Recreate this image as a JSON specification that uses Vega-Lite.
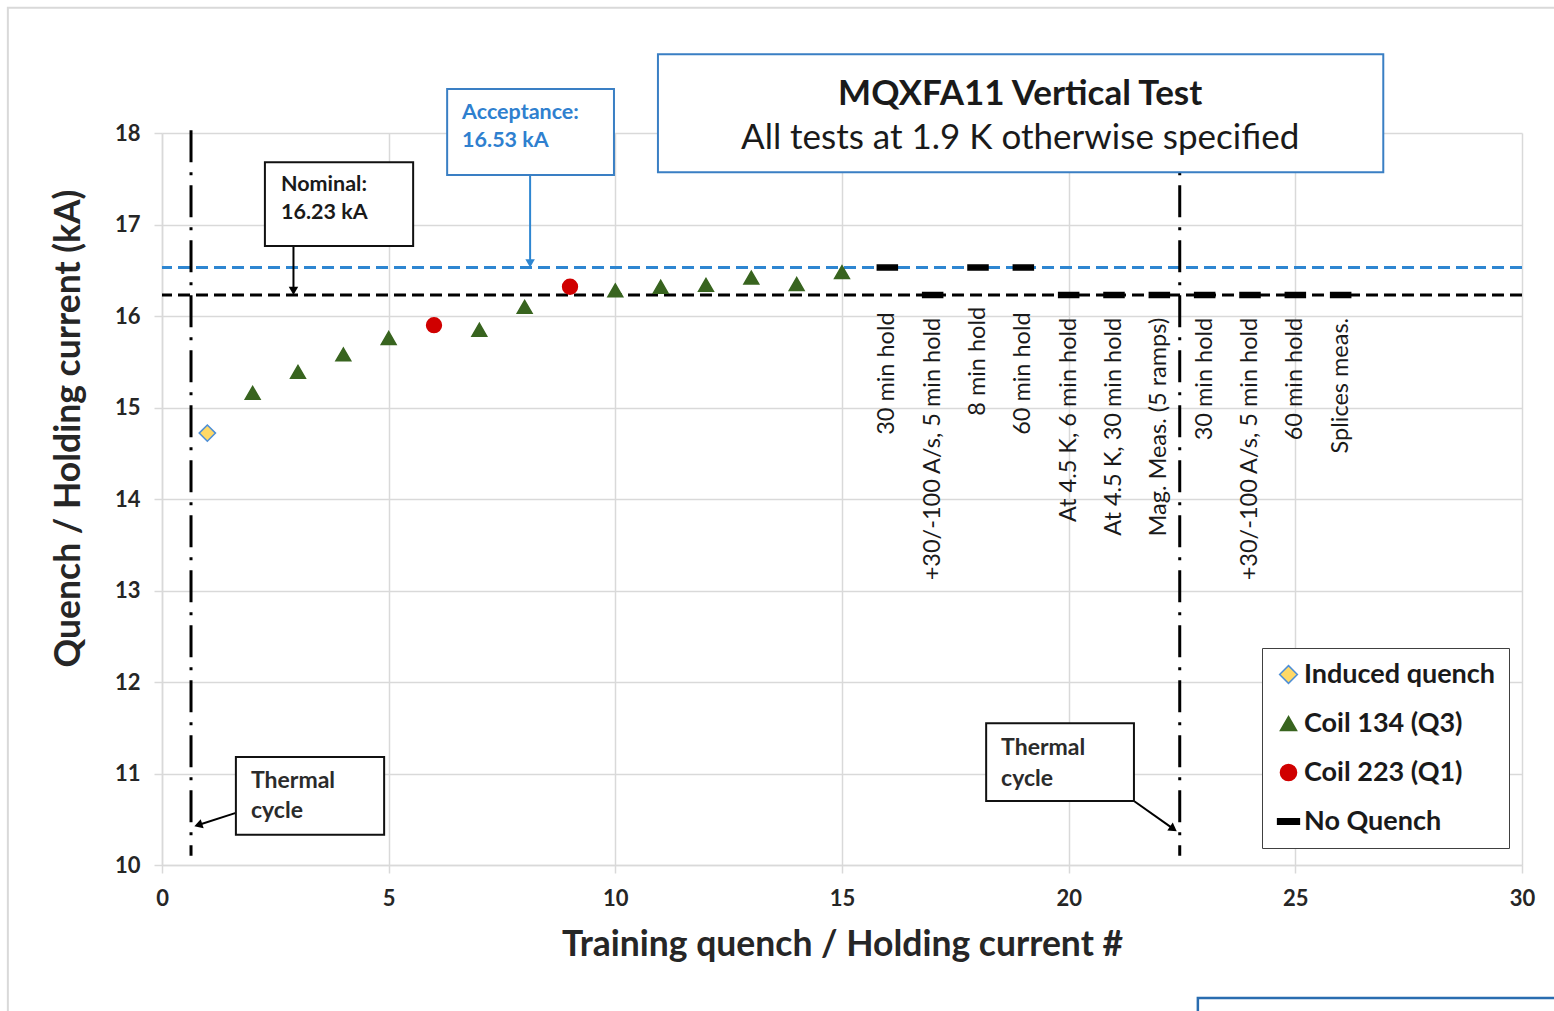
{
  "$schema": "https://vega.github.io/schema/vega-lite/v6.json",
  "width": 1360,
  "height": 732,
  "autosize": {"type": "none"},
  "padding": {"left": 162, "top": 133, "right": 32, "bottom": 146},
  "background": "#ffffff",
  "config": {
    "font": "Lato",
    "view": {"stroke": null},
    "axis": {
      "gridColor": "#d9d9d9", "gridWidth": 1.5,
      "domainColor": "#d9d9d9", "domainWidth": 1.5,
      "tickColor": "#d9d9d9", "tickWidth": 1.5, "tickSize": 8,
      "labelFont": "Lato", "labelFontSize": 22, "labelFontWeight": "bold", "labelColor": "#262626",
      "labelFlush": false,
      "titleFont": "Lato", "titleFontSize": 35.5, "titleFontWeight": "bold", "titleColor": "#262626"
    }
  },
  "datasets": {
    "quenches": [
      {"n": 1, "current": 14.72, "series": "Induced quench"},
      {"n": 2, "current": 15.16, "series": "Coil 134 (Q3)"},
      {"n": 3, "current": 15.39, "series": "Coil 134 (Q3)"},
      {"n": 4, "current": 15.58, "series": "Coil 134 (Q3)"},
      {"n": 5, "current": 15.76, "series": "Coil 134 (Q3)"},
      {"n": 6, "current": 15.90, "series": "Coil 223 (Q1)"},
      {"n": 7, "current": 15.85, "series": "Coil 134 (Q3)"},
      {"n": 8, "current": 16.10, "series": "Coil 134 (Q3)"},
      {"n": 9, "current": 16.32, "series": "Coil 223 (Q1)"},
      {"n": 10, "current": 16.28, "series": "Coil 134 (Q3)"},
      {"n": 11, "current": 16.32, "series": "Coil 134 (Q3)"},
      {"n": 12, "current": 16.34, "series": "Coil 134 (Q3)"},
      {"n": 13, "current": 16.42, "series": "Coil 134 (Q3)"},
      {"n": 14, "current": 16.35, "series": "Coil 134 (Q3)"},
      {"n": 15, "current": 16.48, "series": "Coil 134 (Q3)"},
      {"n": 16, "current": 16.53, "series": "No Quench"},
      {"n": 17, "current": 16.23, "series": "No Quench"},
      {"n": 18, "current": 16.53, "series": "No Quench"},
      {"n": 19, "current": 16.53, "series": "No Quench"},
      {"n": 20, "current": 16.23, "series": "No Quench"},
      {"n": 21, "current": 16.23, "series": "No Quench"},
      {"n": 22, "current": 16.23, "series": "No Quench"},
      {"n": 23, "current": 16.23, "series": "No Quench"},
      {"n": 24, "current": 16.23, "series": "No Quench"},
      {"n": 25, "current": 16.23, "series": "No Quench"},
      {"n": 26, "current": 16.23, "series": "No Quench"}
    ],
    "holds": [
      {"n": 16, "top": 16.04, "label": "30 min hold"},
      {"n": 17, "top": 15.98, "label": "+30/-100 A/s, 5 min hold"},
      {"n": 18, "top": 16.10, "label": "8 min hold"},
      {"n": 19, "top": 16.04, "label": "60 min hold"},
      {"n": 20, "top": 15.98, "label": "At 4.5 K, 6 min hold"},
      {"n": 21, "top": 15.98, "label": "At 4.5 K, 30 min hold"},
      {"n": 22, "top": 15.98, "label": "Mag. Meas. (5 ramps)"},
      {"n": 23, "top": 15.98, "label": "30 min hold"},
      {"n": 24, "top": 15.98, "label": "+30/-100 A/s, 5 min hold"},
      {"n": 25, "top": 15.98, "label": "60 min hold"},
      {"n": 26, "top": 15.98, "label": "Splices meas."}
    ],
    "refs": [
      {"level": "Acceptance", "value": 16.53},
      {"level": "Nominal", "value": 16.23}
    ],
    "cycles": [
      {"x": 0.64, "y": 18.03, "y2": 10.1},
      {"x": 22.45, "y": 18.03, "y2": 10.1}
    ],
    "arrows": [
      {"name": "nominal", "x": 2.9, "y": 16.765, "x2": 2.9, "y2": 16.275},
      {"name": "acceptance", "x": 8.12, "y": 17.54, "x2": 8.12, "y2": 16.575},
      {"name": "thermal1", "x": 1.63, "y": 10.57, "x2": 0.80, "y2": 10.437},
      {"name": "thermal2", "x": 21.44, "y": 10.70, "x2": 22.31, "y2": 10.395}
    ],
    "boxes": [
      {"name": "frame", "x": -3.40, "x2": 32.5, "y": 19.37, "y2": 8.0},
      {"name": "corner", "x": 22.85, "x2": 32.5, "y": 8.547, "y2": 8.0},
      {"name": "title", "x": 10.94, "x2": 26.94, "y": 18.86, "y2": 17.57},
      {"name": "acceptance", "x": 6.29, "x2": 9.97, "y": 18.48, "y2": 17.54},
      {"name": "nominal", "x": 2.27, "x2": 5.54, "y": 17.68, "y2": 16.765},
      {"name": "thermal1", "x": 1.63, "x2": 4.90, "y": 11.18, "y2": 10.33},
      {"name": "thermal2", "x": 18.18, "x2": 21.44, "y": 11.55, "y2": 10.70}
    ],
    "notes": [
      {"name": "title1", "x": 18.93, "y": 18.43, "text": "MQXFA11 Vertical Test"},
      {"name": "title2", "x": 18.93, "y": 17.94, "text": "All tests at 1.9 K otherwise specified"},
      {"name": "acceptance", "x": 6.62, "y": 18.22, "text": "Acceptance:"},
      {"name": "acceptance", "x": 6.62, "y": 17.91, "text": "16.53 kA"},
      {"name": "nominal", "x": 2.625, "y": 17.43, "text": "Nominal:"},
      {"name": "nominal", "x": 2.625, "y": 17.126, "text": "16.23 kA"},
      {"name": "thermal", "x": 1.963, "y": 10.918, "text": "Thermal"},
      {"name": "thermal", "x": 1.963, "y": 10.59, "text": "cycle"},
      {"name": "thermal", "x": 18.51, "y": 11.28, "text": "Thermal"},
      {"name": "thermal", "x": 18.51, "y": 10.94, "text": "cycle"}
    ]
  },
  "layer": [
    {
      "data": {"name": "quenches"},
      "mark": {"type": "point", "opacity": 0},
      "encoding": {
        "x": {"field": "n", "type": "quantitative", "scale": {"domain": [0, 30], "nice": false, "zero": false},
          "axis": {"values": [0, 5, 10, 15, 20, 25, 30], "format": "d", "grid": true, "title": "Training quench / Holding current #", "titleX": 680, "titleY": 79, "titleBaseline": "middle", "titleAlign": "center", "labelPadding": 15}},
        "y": {"field": "current", "type": "quantitative", "scale": {"domain": [10, 18], "nice": false, "zero": false},
          "axis": {"values": [10, 11, 12, 13, 14, 15, 16, 17, 18], "format": "d", "grid": true, "title": "Quench / Holding current (kA)", "titleX": -94, "titleY": 295, "titleAngle": 270, "titleBaseline": "middle", "titleAlign": "center", "labelPadding": 14}}
      }
    },
    {
      "data": {"name": "refs"},
      "transform": [{"filter": "datum.level === 'Acceptance'"}],
      "mark": {"type": "rule", "color": "#2E86D1", "strokeWidth": 3, "strokeDash": [12, 6]},
      "encoding": {
        "y": {"field": "value", "type": "quantitative", "title": "Quench / Holding current (kA)"}
      }
    },
    {
      "data": {"name": "refs"},
      "transform": [{"filter": "datum.level === 'Nominal'"}],
      "mark": {"type": "rule", "color": "#000000", "strokeWidth": 3, "strokeDash": [12, 6]},
      "encoding": {
        "y": {"field": "value", "type": "quantitative", "title": "Quench / Holding current (kA)"}
      }
    },
    {
      "data": {"name": "cycles"},
      "mark": {"type": "rule", "color": "#000000", "strokeWidth": 3, "strokeDash": [32, 10, 3, 10]},
      "encoding": {
        "x": {"field": "x", "type": "quantitative", "title": "Training quench / Holding current #"},
        "y": {"field": "y", "type": "quantitative", "title": "Quench / Holding current (kA)"},
        "y2": {"field": "y2"}
      }
    },
    {
      "data": {"name": "quenches"},
      "mark": {"type": "point", "filled": true, "size": 220, "strokeWidth": 1.5, "opacity": 1},
      "encoding": {
        "x": {"field": "n", "type": "quantitative", "title": "Training quench / Holding current #"},
        "y": {"field": "current", "type": "quantitative", "title": "Quench / Holding current (kA)"},
        "color": {
          "field": "series", "type": "nominal",
          "scale": {"domain": ["Induced quench", "Coil 134 (Q3)", "Coil 223 (Q1)", "No Quench"], "range": ["#FFD966", "#38641F", "#D00000", "#000000"]},
          "legend": {
            "title": null, "orient": "none", "legendX": 1100, "legendY": 515,
            "padding": 13, "strokeColor": "#404040", "fillColor": "#ffffff",
            "symbolSize": 260, "symbolStrokeWidth": 1.5,
            "labelFont": "Lato", "labelFontSize": 27, "labelFontWeight": "bold", "labelColor": "#1a1a1a",
            "labelOffset": 2, "rowPadding": 21, "labelLimit": 400,
            "encode": {"legend": {"update": {"strokeWidth": {"value": 2}}}}
          }
        },
        "shape": {
          "field": "series", "type": "nominal",
          "scale": {"domain": ["Induced quench", "Coil 134 (Q3)", "Coil 223 (Q1)", "No Quench"], "range": ["M0,-1.1L1.1,0L0,1.1L-1.1,0Z", "triangle-up", "circle", "M-1.35,-0.33H1.35V0.33H-1.35Z"]}
        },
        "stroke": {
          "field": "series", "type": "nominal",
          "scale": {"domain": ["Induced quench", "Coil 134 (Q3)", "Coil 223 (Q1)", "No Quench"], "range": ["#4F8FD6", "#38641F", "#D00000", "#000000"]}
        }
      }
    },
    {
      "data": {"name": "holds"},
      "mark": {"type": "text", "angle": 270, "align": "right", "baseline": "middle", "font": "Lato", "fontSize": 23.5, "color": "#1a1a1a"},
      "encoding": {
        "x": {"field": "n", "type": "quantitative", "title": "Training quench / Holding current #"},
        "y": {"field": "top", "type": "quantitative", "title": "Quench / Holding current (kA)"},
        "text": {"field": "label"}
      }
    },
    {
      "data": {"name": "arrows"},
      "transform": [{"filter": "datum.name !== 'acceptance'"}],
      "mark": {"type": "rule", "color": "#000000", "strokeWidth": 2},
      "encoding": {
        "x": {"field": "x", "type": "quantitative", "title": "Training quench / Holding current #"},
        "y": {"field": "y", "type": "quantitative", "title": "Quench / Holding current (kA)"},
        "x2": {"field": "x2"},
        "y2": {"field": "y2"}
      }
    },
    {
      "data": {"name": "arrows"},
      "transform": [{"filter": "datum.name === 'acceptance'"}],
      "mark": {"type": "rule", "color": "#2E86D1", "strokeWidth": 2},
      "encoding": {
        "x": {"field": "x", "type": "quantitative", "title": "Training quench / Holding current #"},
        "y": {"field": "y", "type": "quantitative", "title": "Quench / Holding current (kA)"},
        "x2": {"field": "x2"},
        "y2": {"field": "y2"}
      }
    },
    {
      "data": {"name": "arrows"},
      "transform": [{"filter": "datum.name === 'nominal'"}],
      "mark": {"type": "point", "shape": "triangle-down", "filled": true, "size": 90, "color": "#000000", "opacity": 1},
      "encoding": {
        "x": {"field": "x2", "type": "quantitative", "title": "Training quench / Holding current #"},
        "y": {"field": "y2", "type": "quantitative", "title": "Quench / Holding current (kA)"}
      }
    },
    {
      "data": {"name": "arrows"},
      "transform": [{"filter": "datum.name === 'acceptance'"}],
      "mark": {"type": "point", "shape": "triangle-down", "filled": true, "size": 90, "color": "#2E86D1", "opacity": 1},
      "encoding": {
        "x": {"field": "x2", "type": "quantitative", "title": "Training quench / Holding current #"},
        "y": {"field": "y2", "type": "quantitative", "title": "Quench / Holding current (kA)"}
      }
    },
    {
      "data": {"name": "arrows"},
      "transform": [{"filter": "datum.name === 'thermal1'"}],
      "mark": {"type": "point", "shape": "triangle-left", "angle": 342, "filled": true, "size": 90, "color": "#000000", "opacity": 1},
      "encoding": {
        "x": {"field": "x2", "type": "quantitative", "title": "Training quench / Holding current #"},
        "y": {"field": "y2", "type": "quantitative", "title": "Quench / Holding current (kA)"}
      }
    },
    {
      "data": {"name": "arrows"},
      "transform": [{"filter": "datum.name === 'thermal2'"}],
      "mark": {"type": "point", "shape": "triangle-right", "angle": 35, "filled": true, "size": 90, "color": "#000000", "opacity": 1},
      "encoding": {
        "x": {"field": "x2", "type": "quantitative", "title": "Training quench / Holding current #"},
        "y": {"field": "y2", "type": "quantitative", "title": "Quench / Holding current (kA)"}
      }
    },
    {
      "data": {"name": "boxes"},
      "transform": [{"filter": "datum.name === 'title' || datum.name === 'acceptance'"}],
      "mark": {"type": "rect", "fill": "#ffffff", "stroke": "#3A7FC4", "strokeWidth": 2},
      "encoding": {
        "x": {"field": "x", "type": "quantitative", "title": "Training quench / Holding current #"},
        "x2": {"field": "x2"},
        "y": {"field": "y", "type": "quantitative", "title": "Quench / Holding current (kA)"},
        "y2": {"field": "y2"}
      }
    },
    {
      "data": {"name": "boxes"},
      "transform": [{"filter": "datum.name === 'nominal' || datum.name === 'thermal1' || datum.name === 'thermal2'"}],
      "mark": {"type": "rect", "fill": "#ffffff", "stroke": "#111111", "strokeWidth": 2},
      "encoding": {
        "x": {"field": "x", "type": "quantitative", "title": "Training quench / Holding current #"},
        "x2": {"field": "x2"},
        "y": {"field": "y", "type": "quantitative", "title": "Quench / Holding current (kA)"},
        "y2": {"field": "y2"}
      }
    },
    {
      "data": {"name": "notes"},
      "transform": [{"filter": "datum.name === 'title1'"}],
      "mark": {"type": "text", "align": "center", "baseline": "middle", "font": "Lato", "fontSize": 35, "fontWeight": "bold", "color": "#1a1a1a"},
      "encoding": {
        "x": {"field": "x", "type": "quantitative", "title": "Training quench / Holding current #"},
        "y": {"field": "y", "type": "quantitative", "title": "Quench / Holding current (kA)"},
        "text": {"field": "text"}
      }
    },
    {
      "data": {"name": "notes"},
      "transform": [{"filter": "datum.name === 'title2'"}],
      "mark": {"type": "text", "align": "center", "baseline": "middle", "font": "Lato", "fontSize": 35, "color": "#1a1a1a"},
      "encoding": {
        "x": {"field": "x", "type": "quantitative", "title": "Training quench / Holding current #"},
        "y": {"field": "y", "type": "quantitative", "title": "Quench / Holding current (kA)"},
        "text": {"field": "text"}
      }
    },
    {
      "data": {"name": "notes"},
      "transform": [{"filter": "datum.name === 'acceptance'"}],
      "mark": {"type": "text", "align": "left", "baseline": "middle", "font": "Lato", "fontSize": 21.5, "fontWeight": "bold", "color": "#2F80CF"},
      "encoding": {
        "x": {"field": "x", "type": "quantitative", "title": "Training quench / Holding current #"},
        "y": {"field": "y", "type": "quantitative", "title": "Quench / Holding current (kA)"},
        "text": {"field": "text"}
      }
    },
    {
      "data": {"name": "notes"},
      "transform": [{"filter": "datum.name === 'nominal'"}],
      "mark": {"type": "text", "align": "left", "baseline": "middle", "font": "Lato", "fontSize": 21.5, "fontWeight": "bold", "color": "#1a1a1a"},
      "encoding": {
        "x": {"field": "x", "type": "quantitative", "title": "Training quench / Holding current #"},
        "y": {"field": "y", "type": "quantitative", "title": "Quench / Holding current (kA)"},
        "text": {"field": "text"}
      }
    },
    {
      "data": {"name": "notes"},
      "transform": [{"filter": "datum.name === 'thermal'"}],
      "mark": {"type": "text", "align": "left", "baseline": "middle", "font": "Lato", "fontSize": 23, "fontWeight": "bold", "color": "#2b2b2b"},
      "encoding": {
        "x": {"field": "x", "type": "quantitative", "title": "Training quench / Holding current #"},
        "y": {"field": "y", "type": "quantitative", "title": "Quench / Holding current (kA)"},
        "text": {"field": "text"}
      }
    },
    {
      "data": {"name": "boxes"},
      "transform": [{"filter": "datum.name === 'frame'"}],
      "mark": {"type": "rect", "filled": false, "color": "#d9d9d9", "strokeWidth": 2},
      "encoding": {
        "x": {"field": "x", "type": "quantitative", "title": "Training quench / Holding current #"},
        "x2": {"field": "x2"},
        "y": {"field": "y", "type": "quantitative", "title": "Quench / Holding current (kA)"},
        "y2": {"field": "y2"}
      }
    },
    {
      "data": {"name": "boxes"},
      "transform": [{"filter": "datum.name === 'corner'"}],
      "mark": {"type": "rect", "filled": false, "color": "#2a6db0", "strokeWidth": 2.5},
      "encoding": {
        "x": {"field": "x", "type": "quantitative", "title": "Training quench / Holding current #"},
        "x2": {"field": "x2"},
        "y": {"field": "y", "type": "quantitative", "title": "Quench / Holding current (kA)"},
        "y2": {"field": "y2"}
      }
    }
  ]
}
